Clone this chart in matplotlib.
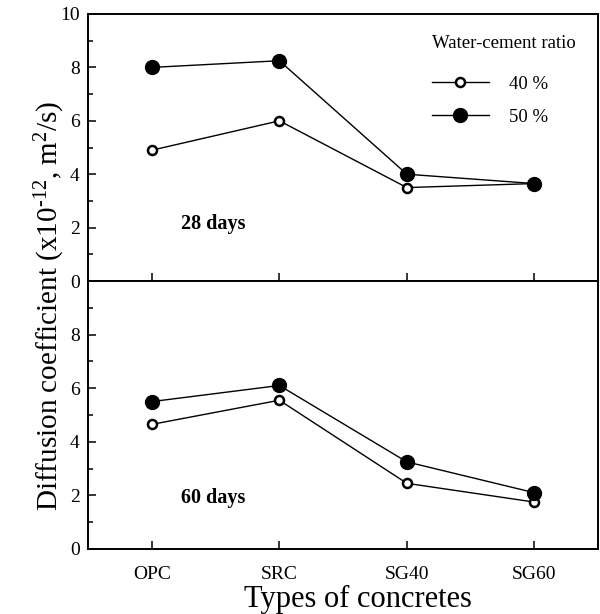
import matplotlib
matplotlib.use("Agg")
import matplotlib.pyplot as plt
import numpy as np
from matplotlib.ticker import MultipleLocator

plt.rcParams['font.family'] = ['Liberation Serif', 'DejaVu Serif']
plt.rcParams['mathtext.fontset'] = 'custom'
plt.rcParams['mathtext.rm'] = 'Liberation Serif'
plt.rcParams['mathtext.it'] = 'Liberation Serif:italic'
plt.rcParams['mathtext.bf'] = 'Liberation Serif:bold'

# data
concretes = ['OPC', 'SRC', 'SG40', 'SG60']
d28_w40 = [4.9, 6.0, 3.5, 3.65]
d28_w50 = [8.0, 8.25, 4.0, 3.65]
d60_w40 = [4.65, 5.55, 2.45, 1.75]
d60_w50 = [5.5, 6.1, 3.25, 2.1]
ratio_labels = ['40 %', '50 %']

x = np.arange(len(concretes))

fig = plt.figure(figsize=(6.0, 6.14), dpi=100)
ax1 = fig.add_axes([0.147, 0.5423, 0.8497, 0.4349])
ax2 = fig.add_axes([0.147, 0.1059, 0.8497, 0.4365])

open_kw = dict(marker='o', ms=6.5, mfc='white', mec='black', mew=1.8, color='black', lw=1)
fill_kw = dict(marker='o', ms=10, mfc='black', mec='black', color='black', lw=1)

ax1.plot(x, d28_w40, label=ratio_labels[0], **open_kw)
ax1.plot(x, d28_w50, label=ratio_labels[1], **fill_kw)
ax2.plot(x, d60_w40, **open_kw)
ax2.plot(x, d60_w50, **fill_kw)

for ax in (ax1, ax2):
    ax.set_xlim(-0.5, 3.5)
    ax.set_ylim(0, 10)
    ax.yaxis.set_major_locator(MultipleLocator(2))
    ax.yaxis.set_minor_locator(MultipleLocator(1))
    ax.set_xticks(x)
    ax.tick_params(axis='both', which='major', direction='in', length=6, width=1.1,
                   labelsize=14, top=False, right=False)
    ax.tick_params(axis='y', which='minor', direction='in', length=3.5, width=1.1)
    ax.tick_params(axis='x', which='minor', bottom=False)
    ax.tick_params(axis='y', pad=6)
    for s in ax.spines.values():
        s.set_linewidth(1.4)

ax1.set_xticklabels([])
ax2.set_xticklabels(concretes)
ax2.tick_params(axis='x', pad=12)
ax2.set_yticks([0, 2, 4, 6, 8, 10])
ax2.set_yticklabels(['0', '2', '4', '6', '8', ''])

ax1.text(0.48, 2.15, '28 days', fontsize=14.5, fontweight='bold', ha='center', va='center')
ax2.text(0.48, 1.9, '60 days', fontsize=14.5, fontweight='bold', ha='center', va='center')

# legend: title as its own text, entries below it
ax1.text(0.675, 0.891, 'Water-cement ratio', transform=ax1.transAxes, fontsize=13.5,
         ha='left', va='center')
ax1.legend(loc='upper left', bbox_to_anchor=(0.675, 0.77), frameon=False, fontsize=13.5,
           handlelength=3.0, handletextpad=1.1, labelspacing=0.85, borderpad=0,
           borderaxespad=0)

fig.text(0.597, 0.0115, 'Types of concretes', fontsize=22, ha='center', va='baseline')
fig.text(0.083, 0.502, r'Diffusion coefficient (x10$^{\text{-12}}$, m$^{2}$/s)', fontsize=21,
         rotation=90, ha='center', va='center')

fig.savefig('out.png', dpi=100)
